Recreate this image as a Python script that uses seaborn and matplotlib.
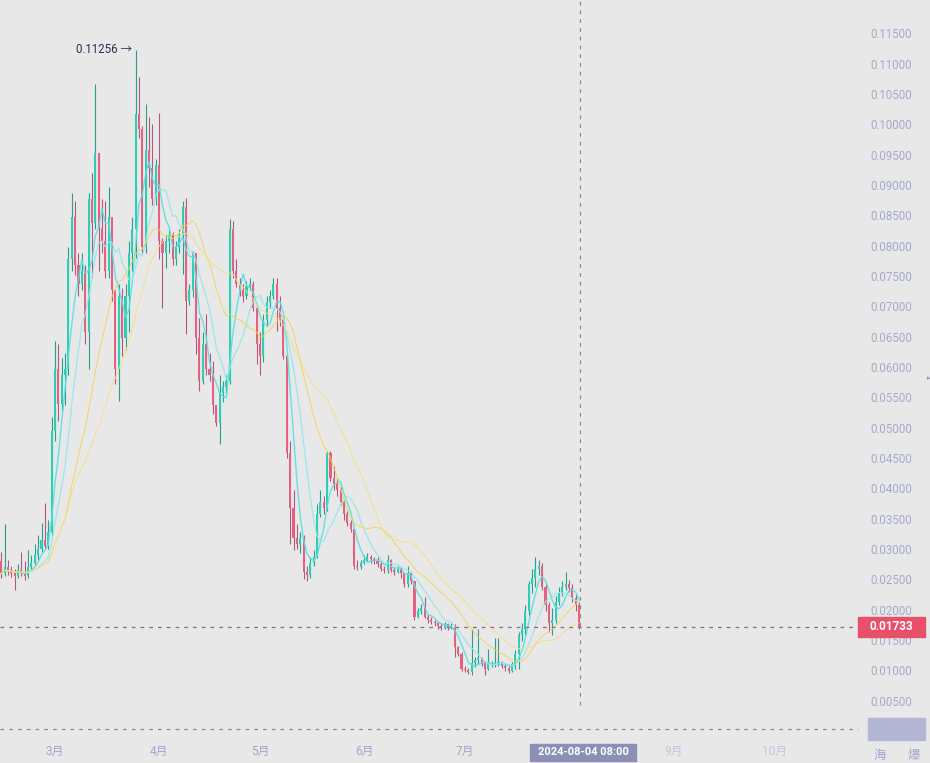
#!/usr/bin/env python3

import matplotlib

matplotlib.use("Agg")
import matplotlib.dates as mdates
import matplotlib.pyplot as plt
import numpy as np
import pandas as pd
import seaborn as sns

# daily candles, 2024-02-14 .. 2024-08-04
start_date = "2024-02-14"
first_open = 0.0282
closes = [
    0.0262, 0.0272, 0.0266, 0.0262, 0.0258, 0.0268, 0.0262, 0.0258, 0.0272, 0.0280,
    0.0292, 0.0302, 0.0318, 0.0308, 0.0330, 0.0497, 0.0600, 0.0541, 0.0590, 0.0600,
    0.0780, 0.0850, 0.0770, 0.0740, 0.0760, 0.0660, 0.0880, 0.0840, 0.0955, 0.0832,
    0.0810, 0.0760, 0.0850, 0.0730, 0.0600, 0.0720, 0.0650, 0.0720, 0.0790, 0.0830,
    0.1020, 0.0995, 0.0800, 0.0960, 0.0930, 0.0880, 0.0935, 0.0811, 0.0790, 0.0810,
    0.0820, 0.0780, 0.0800, 0.0820, 0.0866, 0.0711, 0.0730, 0.0790, 0.0650, 0.0580,
    0.0640, 0.0600, 0.0590, 0.0540, 0.0510, 0.0560, 0.0570, 0.0580, 0.0830, 0.0760,
    0.0740, 0.0730, 0.0720, 0.0735, 0.0740, 0.0700, 0.0640, 0.0620, 0.0680, 0.0710,
    0.0720, 0.0740, 0.0700, 0.0680, 0.0620, 0.0460, 0.0370, 0.0320, 0.0310, 0.0320,
    0.0265, 0.0260, 0.0280, 0.0290, 0.0360, 0.0380, 0.0370, 0.0460, 0.0420, 0.0410,
    0.0400, 0.0380, 0.0360, 0.0345, 0.0335, 0.0275, 0.0272, 0.0280, 0.0285, 0.0290,
    0.0286, 0.0282, 0.0278, 0.0270, 0.0267, 0.0285, 0.0268, 0.0265, 0.0270, 0.0262,
    0.0245, 0.0262, 0.0250, 0.0190, 0.0200, 0.0205, 0.0190, 0.0185, 0.0182, 0.0180,
    0.0175, 0.0172, 0.0178, 0.0172, 0.0176, 0.0140, 0.0130, 0.0105, 0.0103, 0.0100,
    0.0115, 0.0120, 0.0122, 0.0115, 0.0105, 0.0112, 0.0113, 0.0115, 0.0116, 0.0110,
    0.0106, 0.0102, 0.0112, 0.0130, 0.0160, 0.0170, 0.0200, 0.0245, 0.0255, 0.0270,
    0.0275, 0.0240, 0.0210, 0.0180, 0.0185, 0.0215, 0.0230, 0.0240, 0.0245, 0.0238,
    0.0222, 0.0210, 0.01733,
]
highs = [
    0.0298, 0.0343, 0.0285, 0.0275, 0.0270, 0.0278, 0.0298, 0.0282, 0.0300, 0.0292,
    0.0310, 0.0325, 0.0345, 0.0378, 0.0350, 0.0520, 0.0645, 0.0640, 0.0617, 0.0625,
    0.0800, 0.0889, 0.0877, 0.0790, 0.0790, 0.0770, 0.0890, 0.0922, 0.1070, 0.0955,
    0.0880, 0.0877, 0.0900, 0.0839, 0.0711, 0.0740, 0.0733, 0.0740, 0.0811, 0.0850,
    0.11256, 0.1081, 0.1000, 0.1037, 0.1015, 0.1004, 0.0945, 0.1021, 0.0816, 0.0820,
    0.0830, 0.0825, 0.0810, 0.0830, 0.0877, 0.0882, 0.0740, 0.0794, 0.0780, 0.0684,
    0.0660, 0.0690, 0.0625, 0.0612, 0.0535, 0.0590, 0.0580, 0.0590, 0.0847, 0.0844,
    0.0780, 0.0750, 0.0740, 0.0745, 0.0750, 0.0745, 0.0705, 0.0660, 0.0690, 0.0720,
    0.0730, 0.0750, 0.0750, 0.0720, 0.0683, 0.0624, 0.0480, 0.0400, 0.0343, 0.0330,
    0.0326, 0.0275, 0.0290, 0.0300, 0.0376, 0.0400, 0.0390, 0.0464, 0.0464, 0.0440,
    0.0420, 0.0405, 0.0385, 0.0365, 0.0350, 0.0336, 0.0285, 0.0285, 0.0292, 0.0296,
    0.0292, 0.0290, 0.0290, 0.0282, 0.0275, 0.0292, 0.0286, 0.0272, 0.0275, 0.0272,
    0.0262, 0.0275, 0.0262, 0.0250, 0.0205, 0.0212, 0.0223, 0.0195, 0.0190, 0.0186,
    0.0182, 0.0180, 0.0182, 0.0180, 0.0180, 0.0178, 0.0143, 0.0133, 0.0110, 0.0106,
    0.0171, 0.0125, 0.0171, 0.0125, 0.0118, 0.0138, 0.0118, 0.0155, 0.0155, 0.0118,
    0.0114, 0.0110, 0.0116, 0.0135, 0.0166, 0.0180, 0.0210, 0.0250, 0.0270, 0.0290,
    0.0285, 0.0280, 0.0245, 0.0215, 0.0205, 0.0225, 0.0240, 0.0250, 0.0265, 0.0252,
    0.0245, 0.0228, 0.0215,
]
lows = [
    0.0255, 0.0258, 0.0260, 0.0256, 0.0235, 0.0255, 0.0258, 0.0252, 0.0255, 0.0268,
    0.0276, 0.0285, 0.0298, 0.0302, 0.0302, 0.0325, 0.0480, 0.0513, 0.0530, 0.0540,
    0.0590, 0.0760, 0.0755, 0.0720, 0.0730, 0.0640, 0.0600, 0.0750, 0.0830, 0.0760,
    0.0790, 0.0750, 0.0750, 0.0711, 0.0574, 0.0546, 0.0620, 0.0630, 0.0660, 0.0760,
    0.0783, 0.0980, 0.0790, 0.0790, 0.0900, 0.0870, 0.0870, 0.0780, 0.0700, 0.0766,
    0.0790, 0.0770, 0.0770, 0.0790, 0.0756, 0.0657, 0.0705, 0.0718, 0.0624, 0.0563,
    0.0575, 0.0590, 0.0580, 0.0525, 0.0505, 0.0475, 0.0545, 0.0560, 0.0574, 0.0750,
    0.0735, 0.0720, 0.0710, 0.0715, 0.0730, 0.0695, 0.0607, 0.0590, 0.0610, 0.0670,
    0.0700, 0.0715, 0.0662, 0.0670, 0.0615, 0.0452, 0.0310, 0.0300, 0.0303, 0.0295,
    0.0253, 0.0249, 0.0255, 0.0275, 0.0288, 0.0355, 0.0360, 0.0365, 0.0415, 0.0400,
    0.0390, 0.0375, 0.0350, 0.0340, 0.0330, 0.0270, 0.0268, 0.0270, 0.0278, 0.0282,
    0.0280, 0.0278, 0.0273, 0.0266, 0.0262, 0.0262, 0.0264, 0.0260, 0.0262, 0.0255,
    0.0240, 0.0240, 0.0245, 0.0185, 0.0188, 0.0196, 0.0188, 0.0180, 0.0178, 0.0176,
    0.0170, 0.0168, 0.0170, 0.0168, 0.0170, 0.0125, 0.0126, 0.0102, 0.0100, 0.0097,
    0.0095, 0.0108, 0.0112, 0.0110, 0.0095, 0.0103, 0.0108, 0.0108, 0.0110, 0.0106,
    0.0102, 0.0098, 0.0100, 0.0105, 0.0105, 0.0150, 0.0161, 0.0194, 0.0230, 0.0240,
    0.0260, 0.0235, 0.0200, 0.0166, 0.0160, 0.0180, 0.0210, 0.0225, 0.0235, 0.0232,
    0.0215, 0.0200, 0.0170,
]

ma_windows = [5, 10, 20, 30]
ma_colors = ["#55e0e2", "#92e7ec", "#f0d452", "#f3df80"]
ma_widths = [1.0, 0.9, 0.7, 0.7]

price_ticks = [round(0.005 * k, 3) for k in range(1, 24)]
month_labels = ["3月", "4月", "5月", "6月", "7月", "9月", "10月"]
month_dates = ["2024-03-01", "2024-04-01", "2024-05-01", "2024-06-01",
               "2024-07-01", "2024-09-01", "2024-10-01"]
cursor_time = "2024-08-04 08:00"
peak_label = "0.11256 →"

W, H = 930, 763
UP_BODY, UP_WICK = "#2bd0b4", "#2a9f8e"
DN_BODY, DN_WICK = "#e6617f", "#b2587a"
BG = "#e8e8e8"


def fx(px):
    return px / W


def fy(py):
    return 1 - py / H


df = pd.DataFrame({
    "date": pd.date_range(start_date, periods=len(closes), freq="D"),
    "close": closes,
    "high": highs,
    "low": lows,
})
df["open"] = df["close"].shift(1).fillna(first_open)
for w in ma_windows:
    df[f"ma{w}"] = df["close"].rolling(w, min_periods=1).mean()

sns.set_style("white")
plt.rcParams["font.family"] = ["Roboto", "Noto Sans CJK SC", "DejaVu Sans"]

fig = plt.figure(figsize=(W / 100, H / 100), dpi=100, facecolor=BG)
ax = fig.add_axes([0, 0, 1, 1])
ax.set_facecolor(BG)

up = df["close"] >= df["open"]
x = mdates.date2num(df["date"])
body_lo = np.minimum(df["open"], df["close"])
body_h = np.abs(df["close"] - df["open"])

ax.vlines(x[up], df["low"][up], df["high"][up], color=UP_WICK, lw=0.8, zorder=2)
ax.vlines(x[~up], df["low"][~up], df["high"][~up], color=DN_WICK, lw=0.8, zorder=2)
ax.bar(x[up], body_h[up], bottom=body_lo[up], width=0.62, color=UP_BODY,
       linewidth=0, zorder=3)
ax.bar(x[~up], body_h[~up], bottom=body_lo[~up], width=0.62, color=DN_BODY,
       linewidth=0, zorder=3)

for w, c, lw in zip(ma_windows, ma_colors, ma_widths):
    sns.lineplot(x=x, y=df[f"ma{w}"], ax=ax, color=c, lw=lw, alpha=0.9, zorder=4)

# axis ranges: 3.36 px per day, 6064 px per price unit
x0 = x[0] - 1.2 / 3.36
ax.set_xlim(x0, x0 + W / 3.36)
ax.set_ylim(0.115 - (H - 35) / 6064, 0.115 + 35 / 6064)
ax.set_axis_off()

# last price line + label
last = closes[-1]
ax.axhline(last, xmin=0, xmax=fx(858), color="#8a6c80", lw=0.9,
           dashes=(3, 4), zorder=5)
ax.add_patch(plt.Rectangle((fx(858), fy(637)), fx(67), 20 / H,
                           transform=ax.transAxes, color="#e8506a", zorder=6))

# y tick labels
ytrans = ax.get_yaxis_transform()
for p in price_ticks:
    ax.text(fx(891), p, f"{p:.5f}", transform=ytrans, ha="center", va="center",
            fontsize=8.3, color="#a5aacb", zorder=5)
ax.text(fx(891), fy(627), f"{last:.5f}", transform=ax.transAxes, ha="center",
        va="center", fontsize=8.5, fontweight="bold", color="white", zorder=7)
ax.text(fx(929), fy(378), "▸", transform=ax.transAxes, ha="center",
        va="center", fontsize=5, color="#8c93c4", zorder=5,
        family=["DejaVu Sans"])

# crosshair
cx = mdates.date2num(pd.Timestamp(cursor_time))
ax.axvline(cx, ymin=fy(705), ymax=1, color="#8a8a9a", lw=0.9, dashes=(3, 4),
           zorder=5)

# bottom separator
ax.axhline(0.115 - (729 - 35) / 6064, xmin=0, xmax=fx(858), color="#8c86a0",
           lw=0.9, dashes=(3, 4), zorder=5)

# month labels
xtrans = ax.get_xaxis_transform()
for lab, d in zip(month_labels, month_dates):
    faded = lab in ("9月", "10月")
    ax.text(mdates.date2num(pd.Timestamp(d)), fy(751), lab, transform=xtrans,
            ha="center", va="center", fontsize=8.5,
            color="#c3c6dc" if faded else "#a0a6cc", zorder=5)

ax.add_patch(plt.Rectangle((fx(530), fy(761)), fx(106), 17 / H,
                           transform=ax.transAxes, color="#8d90b6", zorder=6))
ax.text(fx(583), fy(752), cursor_time, transform=ax.transAxes, ha="center",
        va="center", fontsize=8, fontweight="bold", color="white", zorder=7)

ax.add_patch(plt.Rectangle((fx(868), fy(740)), fx(57), 22 / H,
                           transform=ax.transAxes, color="#b3b6d4", zorder=6))
ax.text(fx(880), fy(755), "海", transform=ax.transAxes, ha="center",
        va="center", fontsize=9, color="#a0a6cc", zorder=5)
ax.text(fx(914), fy(755), "爆", transform=ax.transAxes, ha="center",
        va="center", fontsize=9, color="#a0a6cc", zorder=5)

# highest price marker
peak_i = int(np.argmax(highs))
ax.text(x[peak_i] - 1.0, highs[peak_i], peak_label, ha="right", va="center",
        fontsize=8.3, color="#2b2f4a", zorder=7)

fig.savefig("out.png", dpi=100, facecolor=BG)
plt.close(fig)
